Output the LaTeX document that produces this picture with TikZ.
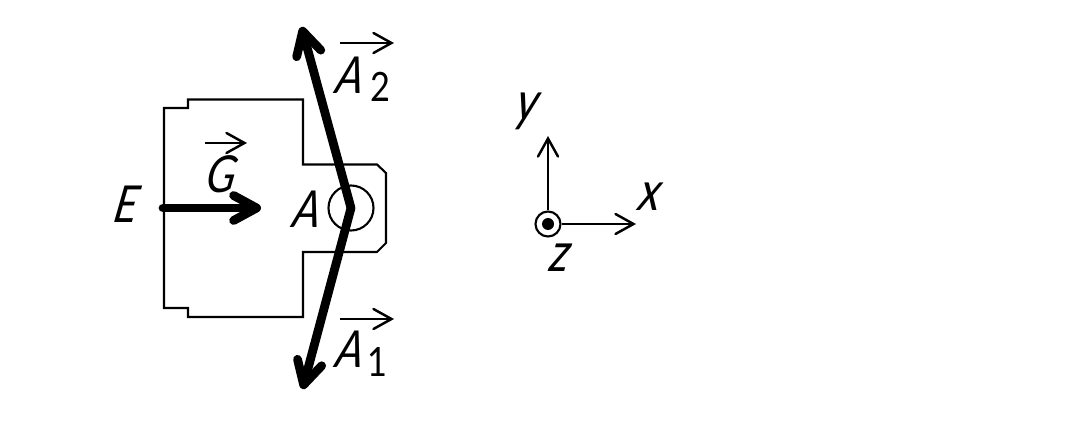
\documentclass[tikz,border=0pt]{standalone}
\usepackage{fontspec}
\setmainfont{Lato}[ItalicFeatures={FakeStretch=0.85,FakeSlant=0.18},UprightFeatures={FakeStretch=0.85}]
\usetikzlibrary{arrows.meta}
\tikzset{
  thinline/.style={line width=1.2pt, line join=miter},
  axisarrow/.style={line width=1.4pt, -{Straight Barb[length=0.36cm, width=0.40cm, line cap=round]}},
  bigarrow/.style={line width=5pt, line cap=round, line join=round, -{Straight Barb[length=0.46cm, width=0.50cm, line cap=round, round]}},
  letter/.style={inner sep=0pt, font=\fontsize{29}{29}\selectfont\itshape},
  lowletter/.style={inner sep=0pt, font=\fontsize{31}{31}\selectfont\itshape},
  sublabel/.style={inner sep=0pt, font=\fontsize{23}{23}\selectfont}
}
\begin{document}
\begin{tikzpicture}
    \useasboundingbox (0, 0) rectangle (21.34, 8.46);

    % body outline
    \draw[thinline] (3.28, 6.30) -- (3.76, 6.30) -- (3.76, 6.47) -- (6.06, 6.47) -- (6.06, 5.17)
      -- (7.54, 5.17) -- (7.72, 5.00) -- (7.72, 3.60) -- (7.54, 3.42) -- (6.06, 3.42)
      -- (6.06, 2.12) -- (3.76, 2.12) -- (3.76, 2.30) -- (3.28, 2.30) -- cycle;

    \node[circle, draw, thinline, minimum size=0.90cm, inner sep=0pt] (hinge) at (7.02, 4.30) {};
    \coordinate (apex) at (7.02, 4.30);

    % forces
    \coordinate (Estart) at (3.26, 4.30);
    \coordinate (Eend) at (5.22, 4.30);
    \coordinate (A1end) at (6.05, 0.68);
    \coordinate (A2end) at (6.03, 7.92);
    \draw[bigarrow] (Estart) -- (Eend);
    \draw[bigarrow] (apex) -- (A1end);
    \draw[bigarrow] (apex) -- (A2end);

    % labels
    \node[letter] (E) at (2.48, 4.38) {E};
    \node[letter] (G) at (4.38, 4.98) {G};
    \node[letter] (A) at (6.10, 4.28) {A};
    \node[letter] (A2) at (6.96, 6.96) {A};
    \node[sublabel] (two) at (7.60, 6.72) {2};
    \node[letter] (A1) at (6.96, 1.48) {A};
    \node[sublabel] (one) at (7.54, 1.22) {1};

    % vector marks
    \coordinate (Ga) at (4.10, 5.60);
    \coordinate (Gb) at (4.94, 5.60);
    \coordinate (A2a) at (6.80, 7.60);
    \coordinate (A2b) at (7.88, 7.60);
    \coordinate (A1a) at (6.80, 2.08);
    \coordinate (A1b) at (7.88, 2.08);
    \draw[axisarrow] (Ga) -- (Gb);
    \draw[axisarrow] (A2a) -- (A2b);
    \draw[axisarrow] (A1a) -- (A1b);

    % axes
    \node[circle, draw, thinline, minimum size=0.50cm, inner sep=0pt] (O) at (10.96, 3.98) {};
    \node[circle, fill=black, minimum size=0.24cm, inner sep=0pt] (Odot) at (O) {};
    \coordinate (xend) at (12.72, 3.98);
    \coordinate (yend) at (10.96, 5.74);
    \draw[axisarrow] (O) -- (xend);
    \draw[axisarrow] (O) -- (yend);
    \node[lowletter] (x) at (12.96, 4.52) {x};
    \node[lowletter] (y) at (10.52, 6.24) {y};
    \node[lowletter] (z) at (11.16, 3.30) {z};
\end{tikzpicture}
\end{document}
